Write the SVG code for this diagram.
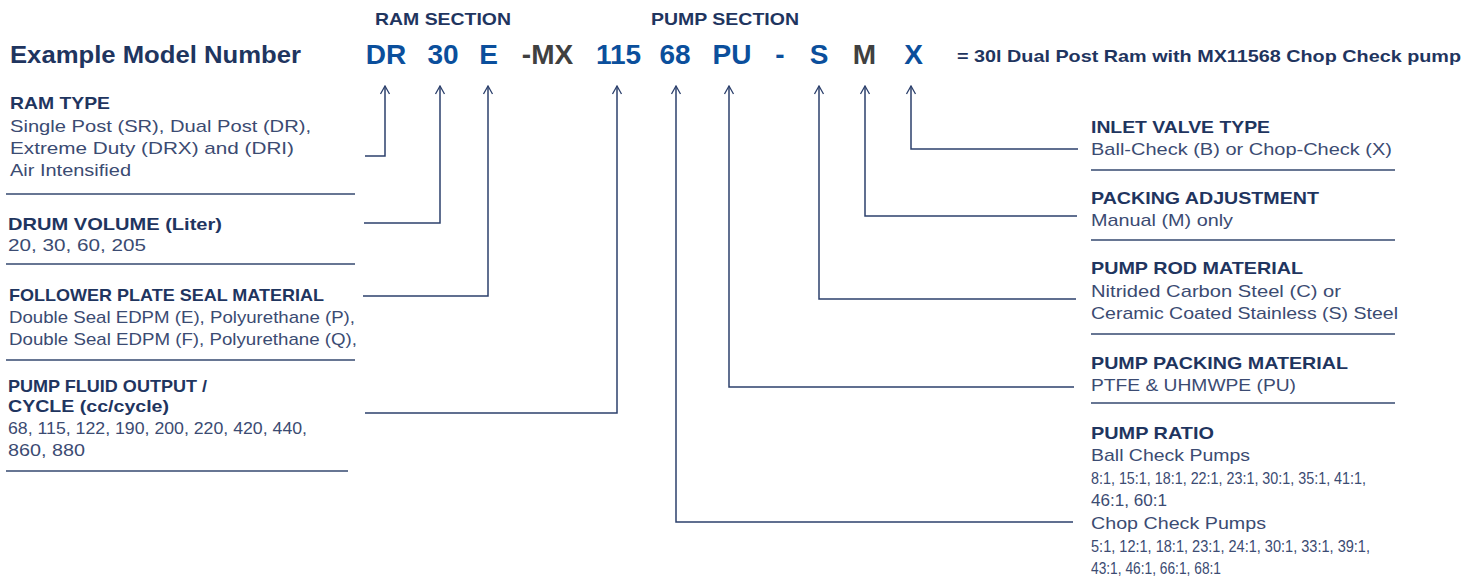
<svg xmlns="http://www.w3.org/2000/svg" width="1481" height="580" viewBox="0 0 1481 580">
<defs>
<style>
text{font-family:"Liberation Sans",Arial,sans-serif}
.h{font-weight:bold;font-size:17px;fill:#1f355f}
.b{font-size:17px;fill:#3b4b72}
.code{font-weight:bold;font-size:28px;fill:#0b4f9c;text-anchor:middle}
.grey{fill:#404040}
.title{font-weight:bold;font-size:23px;fill:#1f355f}
.sep{stroke:#34486f;stroke-width:1.5;fill:none}
.con{stroke:#2c406c;stroke-width:1.5;fill:none}
</style>
<marker id="arr" viewBox="0 0 12 12" refX="11" refY="6" markerWidth="12" markerHeight="12" markerUnits="userSpaceOnUse" orient="auto">
<path d="M3,1.5 L11,6 L3,10.5" fill="none" stroke="#2c406c" stroke-width="1.3"/>
</marker>
</defs>
<rect width="1481" height="580" fill="#ffffff"/>

<g id="header">
<text class="h" x="375" y="25" textLength="136" lengthAdjust="spacingAndGlyphs">RAM SECTION</text>
<text class="h" x="651" y="25" textLength="148" lengthAdjust="spacingAndGlyphs">PUMP SECTION</text>
<text class="title" x="10" y="63" textLength="291" lengthAdjust="spacingAndGlyphs">Example Model Number</text>
<text class="code" x="386" y="64">DR</text>
<text class="code" x="443" y="64">30</text>
<text class="code" x="488.5" y="64">E</text>
<text class="code grey" x="547.5" y="64">-MX</text>
<text class="code" x="618.5" y="64">115</text>
<text class="code" x="675" y="64">68</text>
<text class="code" x="732" y="64">PU</text>
<text class="code" x="780" y="64">-</text>
<text class="code" x="819" y="64">S</text>
<text class="code grey" x="864.5" y="64">M</text>
<text class="code" x="913.5" y="64">X</text>
<text class="h" x="957" y="62" textLength="504" lengthAdjust="spacingAndGlyphs">= 30l Dual Post Ram with MX11568 Chop Check pump</text>
</g>

<g id="ram-type">
<text class="h" x="10" y="109" textLength="100" lengthAdjust="spacingAndGlyphs">RAM TYPE</text>
<text class="b" x="10" y="132" textLength="301" lengthAdjust="spacingAndGlyphs">Single Post (SR), Dual Post (DR),</text>
<text class="b" x="10" y="154" textLength="284" lengthAdjust="spacingAndGlyphs">Extreme Duty (DRX) and (DRI)</text>
<text class="b" x="10" y="176" textLength="121" lengthAdjust="spacingAndGlyphs">Air Intensified</text>
<line class="sep" x1="6" y1="194" x2="355" y2="194"/>
</g>

<g id="drum-volume">
<text class="h" x="8" y="230" textLength="214" lengthAdjust="spacingAndGlyphs">DRUM VOLUME (Liter)</text>
<text class="b" x="8" y="251" textLength="138" lengthAdjust="spacingAndGlyphs">20, 30, 60, 205</text>
<line class="sep" x1="6" y1="264" x2="355" y2="264"/>
</g>

<g id="follower-plate">
<text class="h" x="9" y="301" textLength="315" lengthAdjust="spacingAndGlyphs">FOLLOWER PLATE SEAL MATERIAL</text>
<text class="b" x="9" y="323" textLength="346" lengthAdjust="spacingAndGlyphs">Double Seal EDPM (E), Polyurethane (P),</text>
<text class="b" x="9" y="345" textLength="348" lengthAdjust="spacingAndGlyphs">Double Seal EDPM (F), Polyurethane (Q),</text>
<line class="sep" x1="6" y1="360" x2="355" y2="360"/>
</g>

<g id="pump-fluid-output">
<text class="h" x="8" y="392" textLength="199" lengthAdjust="spacingAndGlyphs">PUMP FLUID OUTPUT /</text>
<text class="h" x="8" y="412" textLength="161" lengthAdjust="spacingAndGlyphs">CYCLE (cc/cycle)</text>
<text class="b" x="8" y="434" textLength="299" lengthAdjust="spacingAndGlyphs">68, 115, 122, 190, 200, 220, 420, 440,</text>
<text class="b" x="8" y="456" textLength="77" lengthAdjust="spacingAndGlyphs">860, 880</text>
<line class="sep" x1="6" y1="471" x2="348" y2="471"/>
</g>

<g id="inlet-valve">
<text class="h" x="1091" y="133" textLength="179" lengthAdjust="spacingAndGlyphs">INLET VALVE TYPE</text>
<text class="b" x="1091" y="155" textLength="301" lengthAdjust="spacingAndGlyphs">Ball-Check (B) or Chop-Check (X)</text>
<line class="sep" x1="1091" y1="170" x2="1395" y2="170"/>
</g>

<g id="packing-adjustment">
<text class="h" x="1091" y="204" textLength="228" lengthAdjust="spacingAndGlyphs">PACKING ADJUSTMENT</text>
<text class="b" x="1091" y="226" textLength="142" lengthAdjust="spacingAndGlyphs">Manual (M) only</text>
<line class="sep" x1="1091" y1="240" x2="1395" y2="240"/>
</g>

<g id="pump-rod">
<text class="h" x="1091" y="274" textLength="212" lengthAdjust="spacingAndGlyphs">PUMP ROD MATERIAL</text>
<text class="b" x="1091" y="297" textLength="250" lengthAdjust="spacingAndGlyphs">Nitrided Carbon Steel (C) or</text>
<text class="b" x="1091" y="319" textLength="307" lengthAdjust="spacingAndGlyphs">Ceramic Coated Stainless (S) Steel</text>
<line class="sep" x1="1091" y1="334" x2="1395" y2="334"/>
</g>

<g id="pump-packing">
<text class="h" x="1091" y="369" textLength="257" lengthAdjust="spacingAndGlyphs">PUMP PACKING MATERIAL</text>
<text class="b" x="1091" y="391" textLength="205" lengthAdjust="spacingAndGlyphs">PTFE &amp; UHMWPE (PU)</text>
<line class="sep" x1="1091" y1="403" x2="1395" y2="403"/>
</g>

<g id="pump-ratio">
<text class="h" x="1091" y="439" textLength="123" lengthAdjust="spacingAndGlyphs">PUMP RATIO</text>
<text class="b" x="1091" y="461" textLength="159" lengthAdjust="spacingAndGlyphs">Ball Check Pumps</text>
<text class="b" x="1091" y="484" textLength="275" lengthAdjust="spacingAndGlyphs">8:1, 15:1, 18:1, 22:1, 23:1, 30:1, 35:1, 41:1,</text>
<text class="b" x="1091" y="506" textLength="76" lengthAdjust="spacingAndGlyphs">46:1, 60:1</text>
<text class="b" x="1091" y="529" textLength="175" lengthAdjust="spacingAndGlyphs">Chop Check Pumps</text>
<text class="b" x="1091" y="552" textLength="279" lengthAdjust="spacingAndGlyphs">5:1, 12:1, 18:1, 23:1, 24:1, 30:1, 33:1, 39:1,</text>
<text class="b" x="1091" y="574" textLength="130" lengthAdjust="spacingAndGlyphs">43:1, 46:1, 66:1, 68:1</text>
</g>

<g id="connectors">
<polyline class="con" points="365,156 385,156 385,86" marker-end="url(#arr)"/>
<polyline class="con" points="364,223 440,223 440,86" marker-end="url(#arr)"/>
<polyline class="con" points="363,296 488,296 488,86" marker-end="url(#arr)"/>
<polyline class="con" points="365,413 617,413 617,86" marker-end="url(#arr)"/>
<polyline class="con" points="1073,522 676,522 676,86" marker-end="url(#arr)"/>
<polyline class="con" points="1074,387 729,387 729,86" marker-end="url(#arr)"/>
<polyline class="con" points="1076,299 819,299 819,86" marker-end="url(#arr)"/>
<polyline class="con" points="1077,216 865,216 865,86" marker-end="url(#arr)"/>
<polyline class="con" points="1078,149 911,149 911,86" marker-end="url(#arr)"/>
</g>
</svg>
